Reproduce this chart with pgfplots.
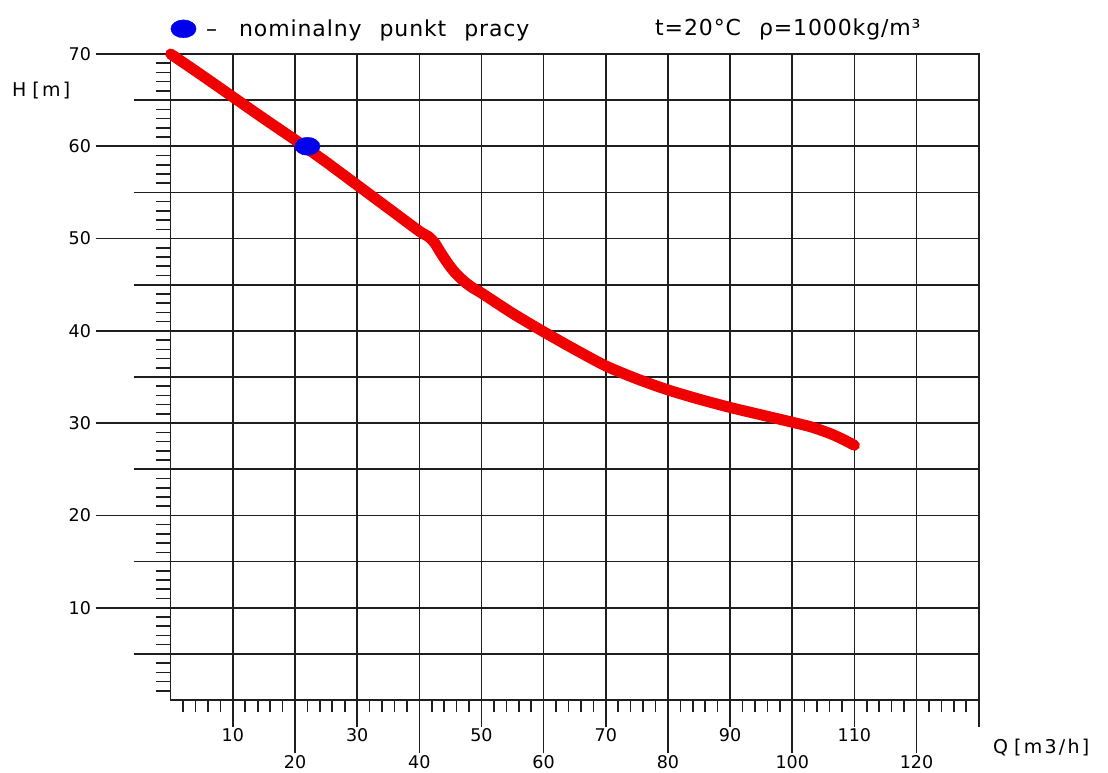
\documentclass[border=0pt]{standalone}
\usepackage{fontspec}
\setmainfont{DejaVu Sans}
\newfontfamily\widefont[LetterSpace=12]{DejaVu Sans}
\newfontfamily\legfont[LetterSpace=4]{DejaVu Sans}
\usepackage{pgfplots}
\pgfplotsset{compat=1.18}
\definecolor{gridc}{RGB}{30,30,30}
\definecolor{curvec}{RGB}{240,0,0}
\definecolor{dotc}{RGB}{0,0,235}

\begin{document}
\begin{tikzpicture}
\path[use as bounding box] (-170.7pt,-72pt) rectangle (937.3pt,700pt);
\begin{axis}[
  scale only axis, width=808pt, height=646pt,
  xmin=0, xmax=130, ymin=0, ymax=70,
  clip=false,
  axis line style={gridc, line width=1.6pt},
  grid=major,
  major grid style={gridc, line width=1.6pt},
  tick style={gridc, line width=1.6pt},
  tick align=outside,
  xtick pos=bottom, ytick pos=left,
  tick label style={font=\fontsize{17.5}{20}\selectfont},
  /pgf/number format/assume math mode=true,
  xtick={10,30,...,130},
  xticklabels={10,30,50,70,90,110,},
  xtick style={/pgfplots/major tick length=27pt},
  xticklabel style={yshift=-21pt},
  extra x ticks={20,40,...,120},
  extra x tick style={grid=major, xtick style={/pgfplots/major tick length=53pt},
    xticklabel style={yshift=-26.5pt}},
  minor xtick={2,4,...,128},
  minor x tick style={/pgfplots/minor tick length=12pt},
  ytick={10,20,...,70},
  ytick style={/pgfplots/major tick length=75pt},
  yticklabel style={xshift=-72pt},
  extra y ticks={5,15,...,65},
  extra y tick labels={},
  extra y tick style={grid=major, ytick style={/pgfplots/major tick length=37pt}},
  minor ytick={1,2,...,69},
  minor y tick style={/pgfplots/minor tick length=15pt},
  xlabel={Q\hspace{6pt}[m3/h]},
  ylabel={H\hspace{6pt}[m]},
  every axis x label/.style={at={(axis description cs:1.0177,-0.0743)}, anchor=west,
    inner sep=0pt, font=\widefont\fontsize{19}{22}\selectfont},
  every axis y label/.style={at={(axis description cs:-0.1964,0.944)}, anchor=west,
    inner sep=0pt, font=\widefont\fontsize{19}{22}\selectfont},
  legend style={draw=none, fill=none, at={(axis description cs:0,1.0382)}, anchor=west,
    font=\legfont\fontsize{22}{26}\selectfont, inner sep=0pt,
    /tikz/every odd column/.style={column sep=8pt}},
  legend cell align=left,
  legend image code/.code={\draw[#1] plot coordinates {(0pt,0.5pt)};},
]
\addplot[curvec, line width=11pt, smooth, tension=0.4, line cap=round, line join=round, forget plot]
  coordinates {
  (0,70) (5,67.7) (10,65.35) (15,63.0) (20,60.7) (25,58.3) (30,55.8) (35,53.3)
  (40,50.8) (41.5,50.2) (42.5,49.5) (43.5,48.4) (44.5,47.4) (45.5,46.5) (46.5,45.8)
  (47.5,45.2) (48.5,44.7) (50,44.1) (55,41.9) (60,39.9) (65,38.0) (70,36.2) (75,34.8)
  (80,33.6) (85,32.6) (90,31.7) (95,30.9) (100,30.1) (103,29.6) (106,28.9)
  (108,28.3) (110,27.6)
  };
\addplot[only marks, mark=*, mark size=9pt, mark options={xscale=1.4, draw=dotc, fill=dotc}]
  coordinates {(22,60)};
\addlegendentry{–\hspace{22pt}nominalny\hspace{18pt}punkt\hspace{18pt}pracy}
\node[anchor=base west, inner sep=0pt, font=\legfont\fontsize{22}{26}\selectfont]
  at (axis description cs:0.5994,1.0294) {t=20°C\hspace{18pt}ρ=1000kg/m³};
\end{axis}
\end{tikzpicture}
\end{document}
